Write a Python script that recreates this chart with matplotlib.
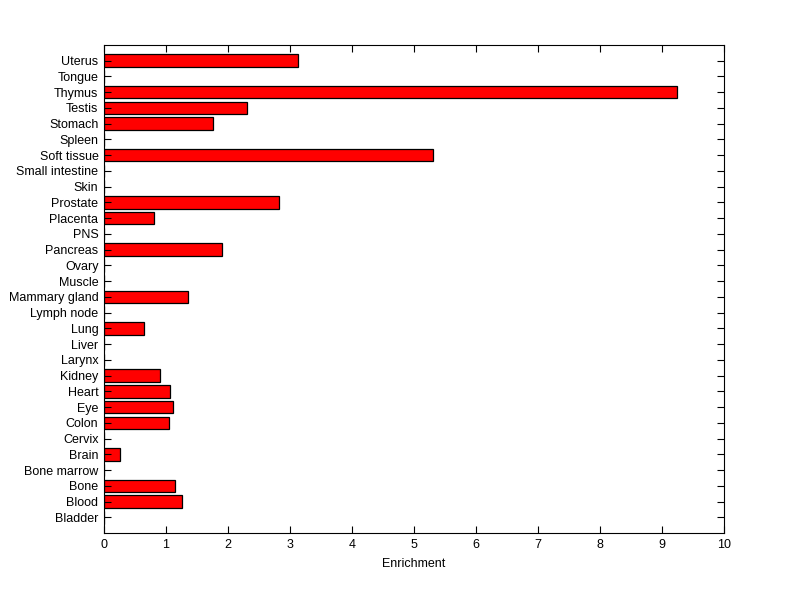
import matplotlib
matplotlib.use("Agg")
import matplotlib.pyplot as plt

tissues = ["Bladder", "Blood", "Bone", "Bone marrow", "Brain", "Cervix", "Colon", "Eye",
           "Heart", "Kidney", "Larynx", "Liver", "Lung", "Lymph node", "Mammary gland",
           "Muscle", "Ovary", "Pancreas", "PNS", "Placenta", "Prostate", "Skin",
           "Small intestine", "Soft tissue", "Spleen", "Stomach", "Testis", "Thymus",
           "Tongue", "Uterus"]
enrichment = [0, 1.26, 1.15, 0, 0.26, 0, 1.05, 1.12,
              1.07, 0.91, 0, 0, 0.65, 0, 1.35,
              0, 0, 1.91, 0, 0.80, 2.83, 0,
              0, 5.31, 0, 1.75, 2.31, 9.24,
              0, 3.13]
x_ticks = list(range(0, 11))

plt.rcParams['font.family'] = ['Liberation Sans', 'DejaVu Sans']

fig = plt.figure(figsize=(8, 5.99), dpi=100)
ax = fig.add_axes([0.13, 0.110, 0.775, 0.815])
pos = list(range(1, len(tissues) + 1))
ax.barh(pos, enrichment, height=0.8, color='#ff0000', edgecolor='black', linewidth=0.9)
ax.set_ylim(0, len(tissues) + 1)
ax.set_xlim(0, 10)
ax.set_yticks(pos)
ax.set_yticklabels(tissues, fontsize=9)
ax.set_xticks(x_ticks)
ax.set_xticklabels([str(t) for t in x_ticks], fontsize=9)
ax.set_xlabel("Enrichment", fontsize=9, labelpad=5)
ax.tick_params(direction='in', length=5, width=0.8, top=True, right=True, pad=4)
for s in ax.spines.values():
    s.set_linewidth(0.8)
fig.savefig("out.png", dpi=100, facecolor='white')
